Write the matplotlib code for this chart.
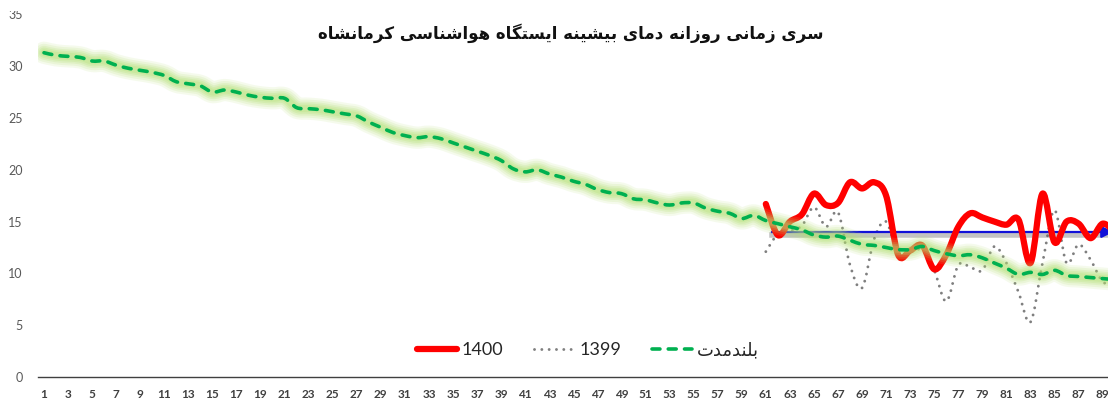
import numpy as np
import matplotlib
matplotlib.use("Agg")
import matplotlib.pyplot as plt
from matplotlib.path import Path
from matplotlib.patches import PathPatch, Rectangle
from matplotlib.lines import Line2D
import matplotlib.patheffects as pe

# ---------------- data ----------------
days = list(range(1, 91))
longterm = [31.3, 31.05, 30.95, 30.85, 30.5, 30.5, 30.1, 29.8, 29.6, 29.4,
            29.1, 28.5, 28.3, 28.1, 27.5, 27.7, 27.5, 27.2, 27.0, 26.9,
            26.9, 26.0, 25.9, 25.8, 25.6, 25.4, 25.2, 24.6, 24.1, 23.6,
            23.3, 23.1, 23.2, 23.0, 22.6, 22.2, 21.8, 21.4, 20.9, 20.1,
            19.8, 20.0, 19.6, 19.3, 18.9, 18.6, 18.1, 17.8, 17.7, 17.2,
            17.1, 16.8, 16.6, 16.8, 16.8, 16.3, 16.0, 15.8, 15.3, 15.6,
            15.1, 14.8, 14.5, 14.2, 13.7, 13.5, 13.6, 13.2, 12.8, 12.7,
            12.5, 12.3, 12.3, 12.6, 12.2, 11.9, 11.7, 11.8, 11.5, 11.0,
            10.5, 9.9, 10.1, 9.9, 10.3, 9.8, 9.7, 9.6, 9.5, 9.4]
days_recent = list(range(61, 91))
y1400 = [16.7, 13.7, 15.0, 15.7, 17.7, 16.6, 16.8, 18.8, 18.2, 18.8,
         17.5, 11.8, 12.2, 12.7, 10.4, 11.8, 14.5, 15.8, 15.4, 15.0,
         14.7, 15.2, 11.0, 17.7, 13.0, 15.0, 14.8, 13.4, 14.8, 14.0]
y1399 = [12.1, 13.8, 14.1, 14.6, 16.4, 14.5, 15.9, 10.8, 8.6, 13.3,
         15.0, 11.8, 12.2, 12.2, 10.3, 7.3, 10.8, 10.6, 10.3, 12.6,
         11.0, 8.2, 5.3, 11.0, 16.1, 11.0, 12.8, 11.3, 9.2, 9.0]
mean_level = 14.0
mean_start_day = 61.5
mean_end_day = 89.9

title_fa = "سری زمانی روزانه دمای بیشینه ایستگاه هواشناسی کرمانشاه"
legend_labels = ["1400", "1399", "بلندمدت"]
yticks = [0, 5, 10, 15, 20, 25, 30, 35]
xtick_days = list(range(1, 90, 2))

# ---------------- minimal Persian shaping ----------------
FORMS = {
    "ا": ("\uFE8D", "\uFE8E", None, None),
    "ب": ("\uFE8F", "\uFE90", "\uFE91", "\uFE92"),
    "ت": ("\uFE95", "\uFE96", "\uFE97", "\uFE98"),
    "د": ("\uFEA9", "\uFEAA", None, None),
    "ر": ("\uFEAD", "\uFEAE", None, None),
    "ز": ("\uFEAF", "\uFEB0", None, None),
    "س": ("\uFEB1", "\uFEB2", "\uFEB3", "\uFEB4"),
    "ش": ("\uFEB5", "\uFEB6", "\uFEB7", "\uFEB8"),
    "ل": ("\uFEDD", "\uFEDE", "\uFEDF", "\uFEE0"),
    "م": ("\uFEE1", "\uFEE2", "\uFEE3", "\uFEE4"),
    "ن": ("\uFEE5", "\uFEE6", "\uFEE7", "\uFEE8"),
    "ه": ("\uFEE9", "\uFEEA", "\uFEEB", "\uFEEC"),
    "و": ("\uFEED", "\uFEEE", None, None),
    "ی": ("\uFBFC", "\uFBFD", "\uFBFE", "\uFBFF"),
    "ک": ("\uFB8E", "\uFB8F", "\uFB90", "\uFB91"),
    "گ": ("\uFB92", "\uFB93", "\uFB94", "\uFB95"),
}


def dual(c):
    return c in FORMS and FORMS[c][2] is not None


def shape(text):
    out = []
    n = len(text)
    for i, c in enumerate(text):
        if c not in FORMS:
            out.append(c)
            continue
        prev_c = text[i - 1] if i > 0 else ""
        next_c = text[i + 1] if i < n - 1 else ""
        pc = dual(prev_c)
        nc = dual(c) and next_c in FORMS
        iso, fin, ini, med = FORMS[c]
        if pc and nc:
            out.append(med)
        elif pc:
            out.append(fin)
        elif nc:
            out.append(ini)
        else:
            out.append(iso)
    return "".join(out)[::-1]


def smooth_path(x, y):
    pts = np.column_stack([np.asarray(x, float), np.asarray(y, float)])
    n = len(pts)
    verts = [pts[0]]
    codes = [Path.MOVETO]
    for i in range(n - 1):
        p0 = pts[max(i - 1, 0)]
        p1 = pts[i]
        p2 = pts[i + 1]
        p3 = pts[min(i + 2, n - 1)]
        c1 = p1 + (p2 - p0) / 6.0
        c2 = p2 - (p3 - p1) / 6.0
        verts += [c1, c2, p2]
        codes += [Path.CURVE4] * 3
    return Path(verts, codes)


# ---------------- figure ----------------
fig = plt.figure(figsize=(11.08, 4.01), dpi=100)
ax = fig.add_axes([38 / 1108, 1 - 377 / 401, 90 * 12.03 / 1108, 362.6 / 401])
ax.set_xlim(0.5, 90.5)
ax.set_ylim(0, 35)

fam = ["Lato", "DejaVu Sans"]

# red 1400
ax.add_patch(PathPatch(smooth_path(days_recent, y1400), fill=False, edgecolor="#ff0000",
                       lw=4.5, zorder=4, capstyle="round", joinstyle="round"))

# gray dotted 1399
ax.add_patch(PathPatch(smooth_path(days_recent, y1399), fill=False, edgecolor="#7f7f7f",
                       lw=2.1, zorder=3, linestyle=(0, (0.01, 2.5)), capstyle="round"))

# blue mean arrow with shadow
ax.plot([mean_start_day, mean_end_day - 0.6], [mean_level, mean_level],
        color="#1010d8", lw=1.6, zorder=3.5,
        path_effects=[pe.SimpleLineShadow(offset=(0, -2.5), shadow_color="#555555",
                                          alpha=0.35, linewidth=4),
                      pe.Normal()])
ax.annotate("", xy=(mean_end_day, mean_level), xytext=(mean_end_day - 1.0, mean_level),
            arrowprops=dict(arrowstyle="-|>,head_length=0.7,head_width=0.35",
                            color="#1010d8", lw=1.6, shrinkA=0, shrinkB=0),
            zorder=3.6)

# green long-term with soft glow
lt_path = smooth_path(days, longterm)
for lw, a in [(16, 0.13), (13, 0.16), (10, 0.2), (7.5, 0.24), (5, 0.26)]:
    ax.add_patch(PathPatch(lt_path, fill=False, edgecolor="#b2e070", lw=lw,
                           alpha=a, zorder=5, capstyle="round", joinstyle="round"))
ax.add_patch(PathPatch(lt_path, fill=False, edgecolor="#00b050", lw=2.6,
                       zorder=6, linestyle=(0, (2.2, 2.3)), capstyle="round"))

# axes styling
for s in ["top", "right", "left"]:
    ax.spines[s].set_visible(False)
ax.spines["bottom"].set_color("#404040")
ax.spines["bottom"].set_linewidth(1.0)
ax.set_yticks(yticks)
ax.set_yticklabels([str(v) for v in yticks])
ax.set_xticks(xtick_days)
ax.set_xticklabels([str(d) for d in xtick_days])
ax.tick_params(axis="y", length=0, pad=11, labelsize=9, labelcolor="#595959")
ax.tick_params(axis="x", length=0, pad=9, labelsize=8.5, labelcolor="#404040")
for lab in ax.get_yticklabels():
    lab.set_family(fam)
for lab in ax.get_xticklabels():
    lab.set_family(fam)
    lab.set_fontweight("bold")

# title
fig.text(571 / 1108, 1 - 33 / 401, shape(title_fa), ha="center", va="center",
         fontsize=12, fontweight="bold", family=["DejaVu Sans"], color="#111111")

# legend
handles = [
    Line2D([], [], color="#ff0000", lw=4.5, solid_capstyle="round"),
    Line2D([], [], color="#7f7f7f", lw=2.1, linestyle=(0, (0.01, 2.5)),
           dash_capstyle="round"),
    Line2D([], [], color="#00b050", lw=2.6, linestyle=(0, (2.2, 2.3)),
           dash_capstyle="round"),
]
labels = [legend_labels[0], legend_labels[1], shape(legend_labels[2])]
leg = fig.legend(handles, labels, loc="center", bbox_to_anchor=(588 / 1108, 1 - 350 / 401),
                 ncol=3, frameon=False, handlelength=2.2, handletextpad=0.3,
                 columnspacing=1.7, prop={"family": fam, "size": 13})
for t in leg.get_texts():
    t.set_color("#262626")

# top crop (the reference image cuts the top of the chart)
fig.patches.append(Rectangle((0, 1 - 11 / 401), 1, 11 / 401, transform=fig.transFigure,
                             facecolor="white", edgecolor="none", zorder=100))

fig.savefig("out.png", dpi=100)
